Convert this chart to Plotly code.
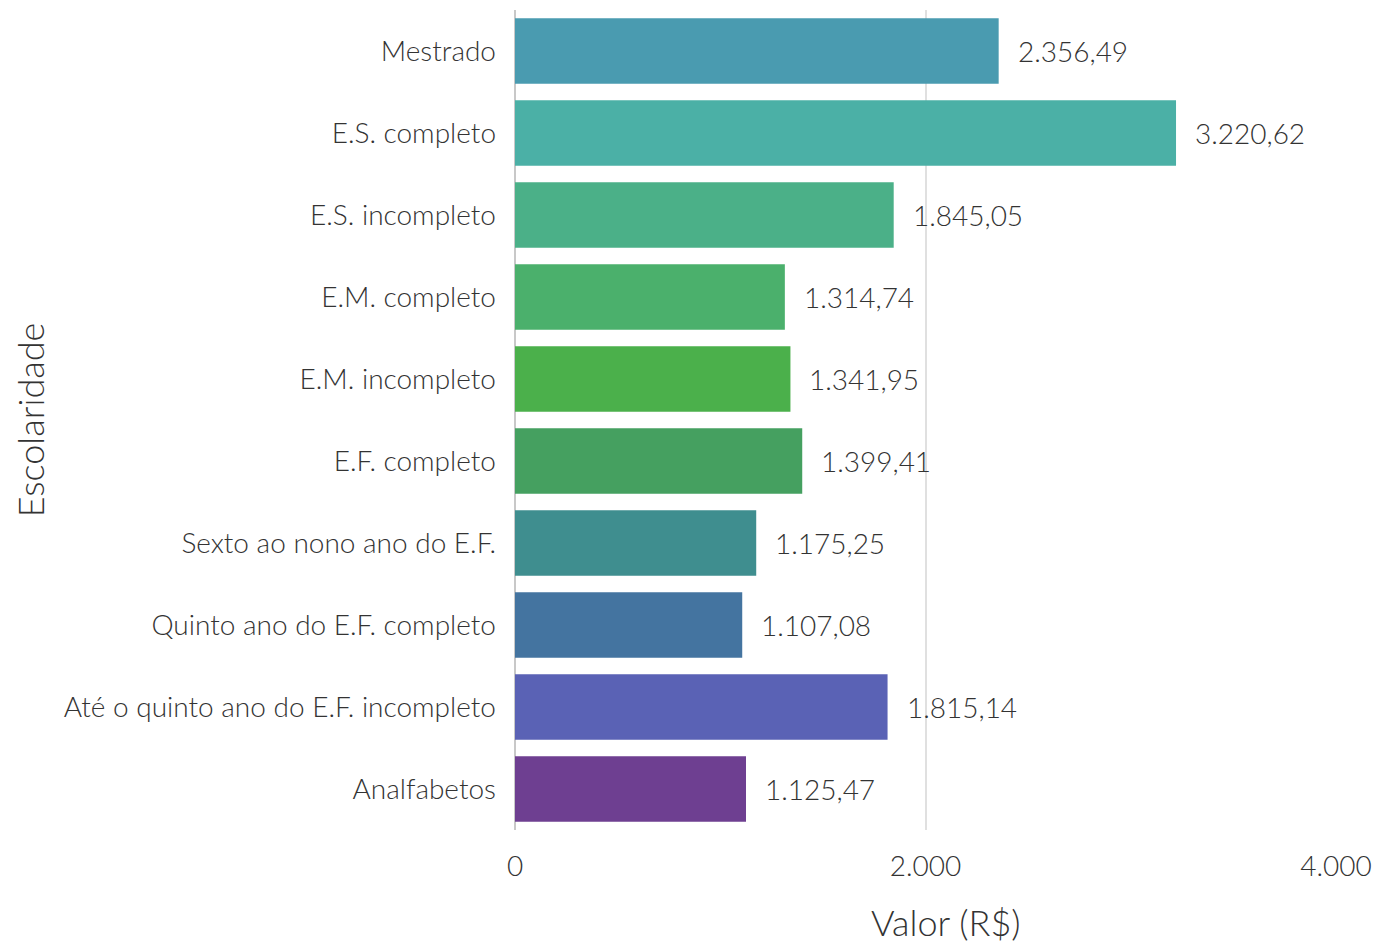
import plotly.graph_objects as go

categorias = ["Mestrado", "E.S. completo", "E.S. incompleto", "E.M. completo", "E.M. incompleto",
              "E.F. completo", "Sexto ao nono ano do E.F.", "Quinto ano do E.F. completo",
              "Até o quinto ano do E.F. incompleto", "Analfabetos"]
valores = [2356.49, 3220.62, 1845.05, 1314.74, 1341.95, 1399.41, 1175.25, 1107.08, 1815.14, 1125.47]
rotulos = ["2.356,49", "3.220,62", "1.845,05", "1.314,74", "1.341,95", "1.399,41", "1.175,25",
           "1.107,08", "1.815,14", "1.125,47"]
cores = ["#4A9BB0", "#4BB0A6", "#4BB088", "#4BB06C", "#4BB04B", "#45A060", "#3F8E8F",
         "#4474A0", "#5A62B5", "#6E3F91"]
ticks_x = [0, 2000, 4000]
ticks_x_txt = ["0", "2.000", "4.000"]

FONT = "Lato"
TXT = "#333333"
fig = go.Figure(go.Bar(x=valores, y=categorias, orientation="h", marker=dict(color=cores, line=dict(width=0)),
                       hoverinfo="skip"))
for v, c, t in zip(valores, categorias, rotulos):
    fig.add_annotation(x=v, y=c, text=t, showarrow=False, xanchor="left", xshift=17,
                       font=dict(family=FONT, size=28, color=TXT, weight=300))

# x-axis title (slightly right of centre, as in the reference)
fig.add_annotation(x=0.5, y=0, xref="paper", yref="paper", xanchor="center", yanchor="middle",
                   xshift=20, yshift=-92, showarrow=False, text="Valor (R$)",
                   font=dict(family=FONT, size=36, color=TXT, weight=300))

fig.update_layout(
    width=1389, height=941, plot_bgcolor="white", paper_bgcolor="white",
    margin=dict(l=507, r=61, t=2, b=119),
    bargap=0.2, showlegend=False,
    font=dict(family=FONT, size=28, color=TXT, weight=300),
)
fig.update_xaxes(range=[0, 4000], tickvals=ticks_x, ticktext=ticks_x_txt, showgrid=True, gridcolor="#e0e0e0",
                 gridwidth=2, zeroline=True, zerolinecolor="#c8c8c8", zerolinewidth=2, ticks="", ticklen=0,
                 automargin=False, ticklabelstandoff=17,
                 tickfont=dict(family=FONT, size=28, color=TXT, weight=300))
fig.update_yaxes(categoryorder="array", categoryarray=categorias[::-1], showgrid=False, ticks="", ticklen=0,
                 automargin=False, ticklabelstandoff=18,
                 title=dict(text="Escolaridade", font=dict(family=FONT, size=36, color=TXT, weight=300), standoff=21),
                 tickfont=dict(family=FONT, size=28, color=TXT, weight=300))
fig.write_html("out.html")
